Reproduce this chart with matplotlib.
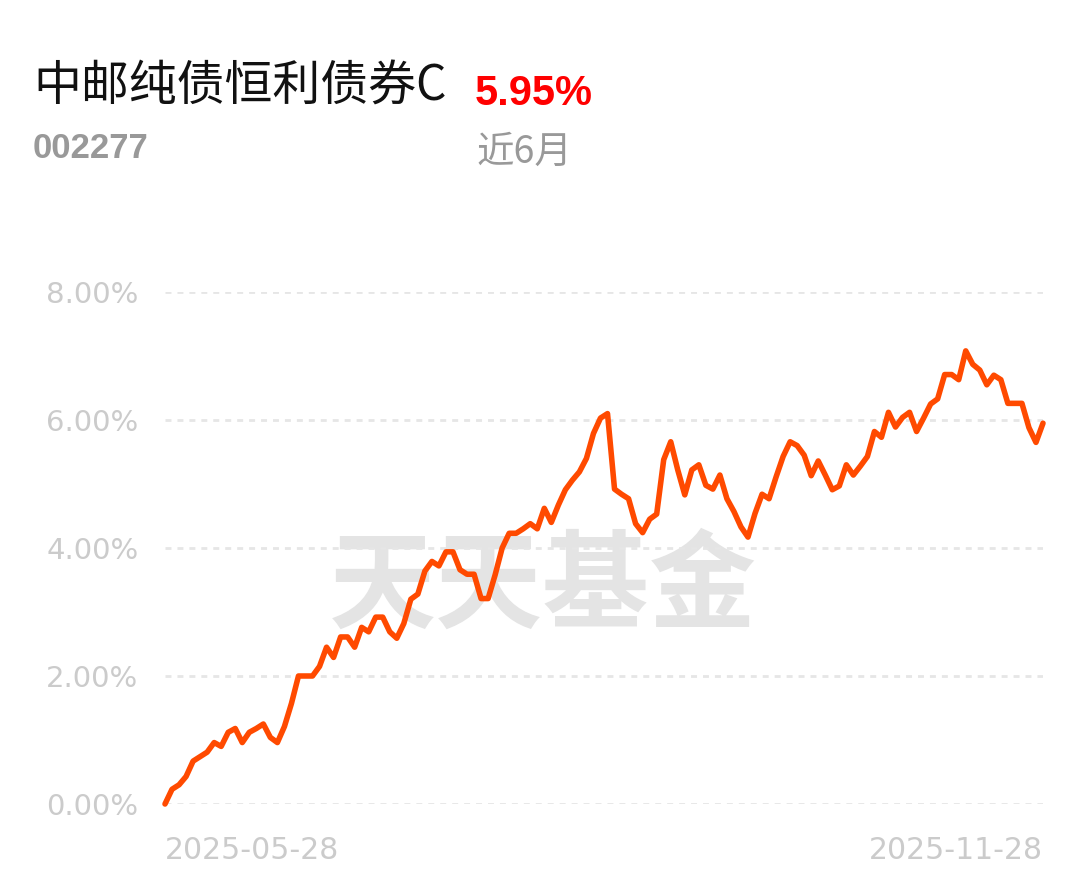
import matplotlib
matplotlib.use("Agg")
import matplotlib.pyplot as plt
from matplotlib import font_manager

# fund info
fund_name = "中邮纯债恒利债券C"
fund_code = "002277"
period_label = "近6月"
period_return = "5.95%"
start_label = "2025-05-28"
end_label = "2025-11-28"

# cumulative return (%), one value per trading day
returns = [
    0.00, 0.23, 0.30, 0.43, 0.67, 0.74, 0.81, 0.96, 0.90, 1.12,
    1.18, 0.96, 1.12, 1.18, 1.25, 1.04, 0.96, 1.21, 1.57, 2.00,
    2.00, 2.00, 2.15, 2.45, 2.29, 2.61, 2.61, 2.45, 2.76, 2.69,
    2.92, 2.92, 2.69, 2.59, 2.82, 3.20, 3.28, 3.64, 3.79, 3.72,
    3.94, 3.94, 3.66, 3.59, 3.59, 3.21, 3.21, 3.58, 4.00, 4.23,
    4.23, 4.30, 4.38, 4.30, 4.62, 4.40, 4.67, 4.91, 5.06, 5.19,
    5.40, 5.79, 6.03, 6.10, 4.92, 4.84, 4.77, 4.38, 4.24, 4.45,
    4.53, 5.38, 5.66, 5.22, 4.83, 5.22, 5.30, 4.98, 4.92, 5.14,
    4.77, 4.57, 4.33, 4.17, 4.54, 4.84, 4.77, 5.11, 5.43, 5.66,
    5.60, 5.45, 5.13, 5.36, 5.14, 4.91, 4.97, 5.30, 5.14, 5.28,
    5.43, 5.82, 5.73, 6.12, 5.89, 6.04, 6.12, 5.82, 6.03, 6.25,
    6.33, 6.71, 6.71, 6.63, 7.08, 6.87, 6.78, 6.55, 6.70, 6.63,
    6.26, 6.26, 6.26, 5.88, 5.65, 5.95,
]
y_ticks = [0, 2, 4, 6, 8]

# pick a narrow font for the numbers if there is one
installed = {f.name for f in font_manager.fontManager.ttflist}
narrow = "Liberation Sans Narrow" in installed
num_font = "Liberation Sans Narrow" if narrow else "Liberation Sans"
cjk = ["Noto Sans CJK SC", "DejaVu Sans"]

plt.rcParams["lines.scale_dashes"] = False

W, H = 1089, 881
fig = plt.figure(figsize=(W / 100, H / 100), dpi=100)
fig.patch.set_facecolor("white")


def fx(px):
    return px / W


def fy(px):
    return 1 - px / H


ax = fig.add_axes([fx(165), 77 / H, 878 / W, 512 / H])
x = list(range(len(returns)))

# dashed horizontal grid
for t in y_ticks:
    ax.axhline(t, color="#e6e6e6", lw=2, linestyle=(0, (4.3, 4.3)), zorder=1)

# watermark
ax.text(0.43, 0.42, "天天基金", transform=ax.transAxes, ha="center", va="center",
        fontsize=77, fontweight="bold", color="#e4e4e4", family=cjk, zorder=0)

ax.plot(x, returns, color="#ff4a00", lw=4, solid_joinstyle="round",
        solid_capstyle="round", clip_on=False, zorder=3)

ax.set_xlim(0, len(returns) - 1)
ax.set_ylim(0, 8)
for s in ax.spines.values():
    s.set_visible(False)

ax.set_yticks(y_ticks)
ax.set_yticklabels(["%.2f%%" % t for t in y_ticks], fontsize=21, color="#cbcbcb",
                   family="DejaVu Sans")
ax.set_xticks([0, len(returns) - 1])
ax.set_xticklabels([start_label, end_label], fontsize=21.5, color="#cbcbcb",
                   family="DejaVu Sans")
ax.get_xticklabels()[0].set_ha("left")
ax.get_xticklabels()[1].set_ha("right")
ax.tick_params(axis="y", length=0, pad=19)
ax.tick_params(axis="x", length=0, pad=23)

# header texts
fig.text(fx(33), fy(101), fund_name, fontsize=34.5, color="#111111", family=cjk,
         ha="left", va="baseline")
fig.text(fx(475), fy(105), period_return, fontsize=34 if narrow else 30,
         color="#ff0000", fontweight="bold", family=num_font, ha="left", va="baseline")
fig.text(fx(33), fy(158), fund_code, fontsize=28 if narrow else 25, color="#999999",
         fontweight="bold", family=num_font, ha="left", va="baseline")
fig.text(fx(476), fy(163), period_label, fontsize=27, color="#999999", family=cjk,
         ha="left", va="baseline")

fig.savefig("out.png", dpi=100, facecolor="white")
